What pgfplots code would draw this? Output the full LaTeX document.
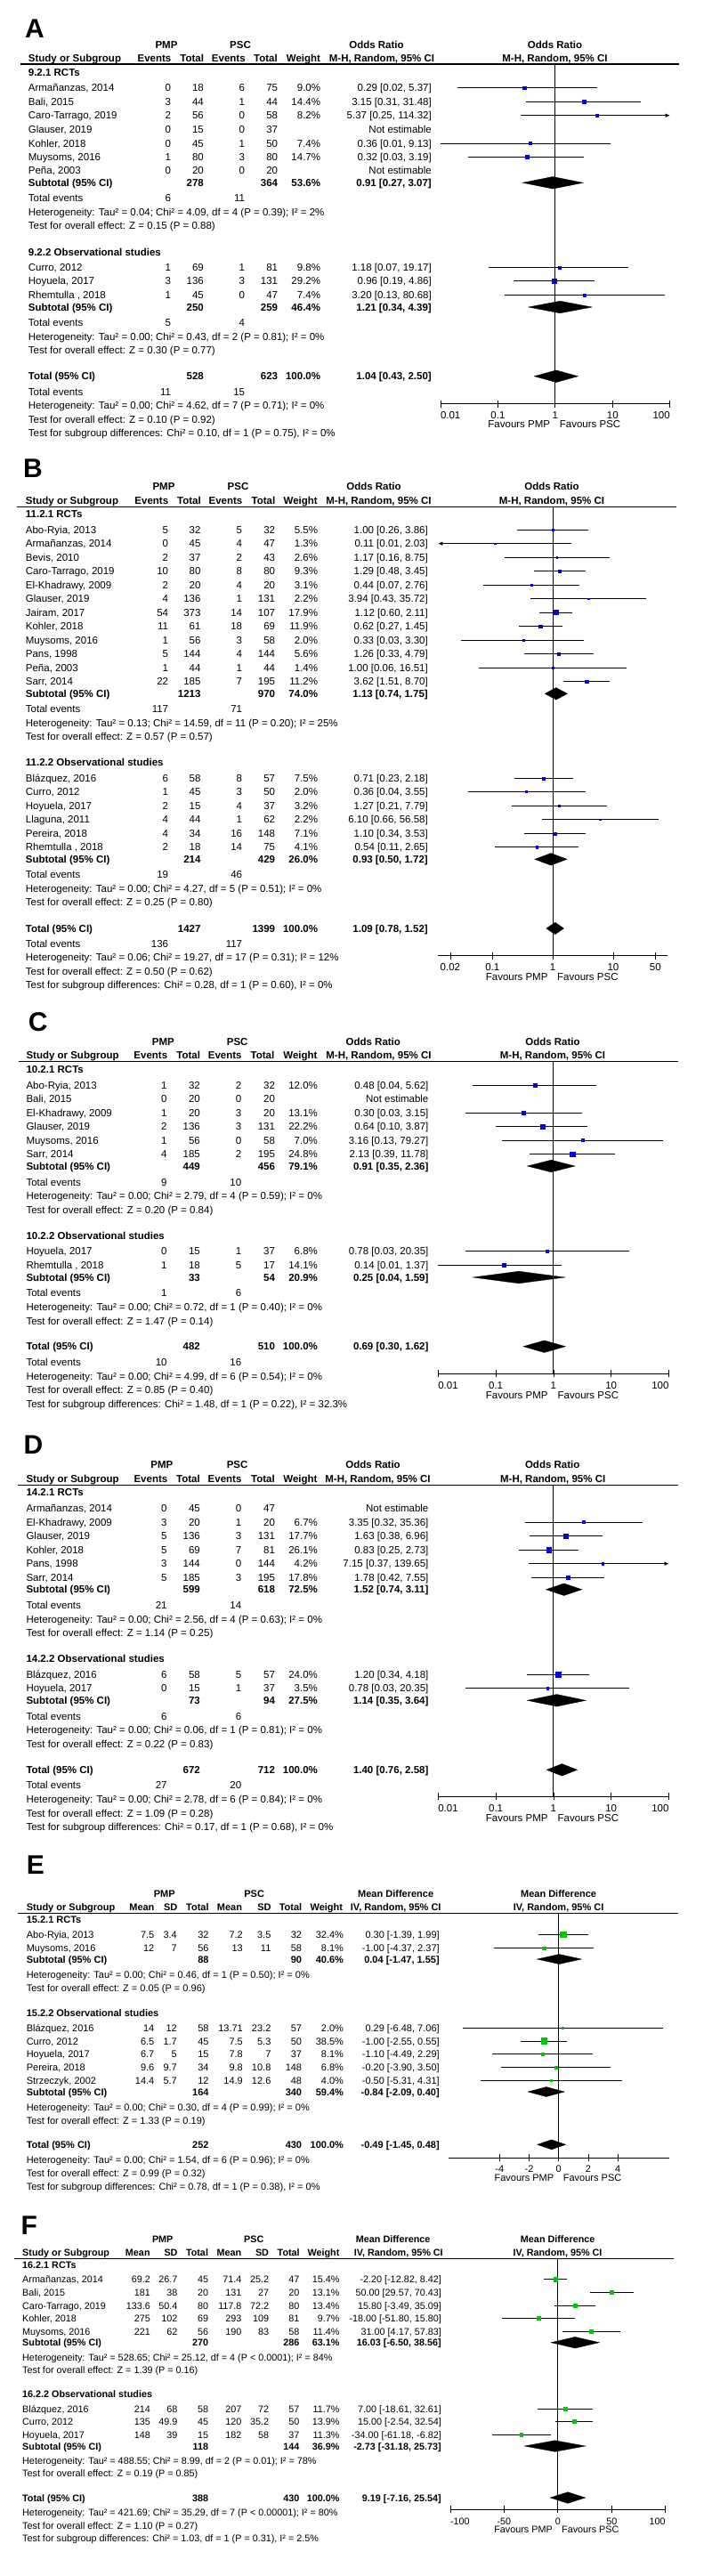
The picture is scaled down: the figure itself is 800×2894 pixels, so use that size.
\documentclass[border=0pt]{standalone}
\usepackage{fontspec}
\setmainfont{Liberation Sans}
\usepackage{pgfplots}
\pgfplotsset{compat=1.18}
\usetikzlibrary{arrows.meta}
\definecolor{rmblue}{RGB}{0,0,225}
\definecolor{rmgreen}{RGB}{0,200,0}
\def\fsz{11.5}
\newcommand\fs{\fontsize{\fsz}{\fsz}\selectfont}
\newcommand\Lt[3]{\node[anchor=base west,inner sep=0pt,font=\fs] at (#1pt,-#2pt-4pt) {#3};}
\newcommand\Rt[3]{\node[anchor=base east,inner sep=0pt,font=\fs] at (#1pt,-#2pt-4pt) {#3};}
\newcommand\Ct[3]{\node[anchor=base,inner sep=0pt,font=\fs] at (#1pt,-#2pt-4pt) {#3};}
\newcommand\Hc[3]{\Ct{#1}{#2}{\textbf{#3}}}
\newcommand\Pl[3]{\node[anchor=base west,inner sep=0pt,font=\fontsize{30}{30}\selectfont\bfseries] at (#1pt,-#2pt) {#3};}
\newcommand\rowOR[8]{\Lt{\xN}{#1}{#2}\Rt{\xa}{#1}{#3}\Rt{\xb}{#1}{#4}\Rt{\xc}{#1}{#5}\Rt{\xd}{#1}{#6}\Rt{\xw}{#1}{#7}\Rt{\xo}{#1}{#8}}
\newcommand\rowMD[9]{\Lt{\xN}{#1}{#2}\Rt{\xa}{#1}{#3}\Rt{\xb}{#1}{#4}\Rt{\xc}{#1}{#5}\Rt{\xd}{#1}{#6}\Rt{\xe}{#1}{#7}\Rt{\xf}{#1}{#8}\Rt{\xw}{#1}{#9}}
\newcommand\md[2]{\Rt{\xo}{#1}{#2}}
% forest-plot helpers (data points)
\newcommand\st[6]{%
\addplot[ciline] coordinates {(#4,#2) (#5,#2)};
\addplot[only marks, mark=square*, color=#1, mark size={max(0.55*sqrt(#6),0.9)}] coordinates {(#3,#2)};}
\newcommand\stx[6]{%
\addplot[ciline,-{Latex[length=5pt,width=4.5pt]}] coordinates {(#4,#2) (#5,#2)};
\addplot[only marks, mark=square*, color=#1, mark size={max(0.55*sqrt(#6),0.9)}] coordinates {(#3,#2)};}
\def\dh{6.8}
\newcommand\dm[4]{\pgfmathsetmacro\yt{#1+\dh}\pgfmathsetmacro\yb{#1-\dh}%
\edef\tmp{\noexpand\addplot[fill=black,draw=black,line width=0.3pt] coordinates {(#3,#1) (#2,\yt) (#4,#1) (#2,\yb)} --cycle;}\tmp}
\pgfplotsset{
 forest/.style={scale only axis, anchor=south west, axis x line=bottom, axis y line=none,
   axis line style={-,black,line width=1pt}, x axis line style={-}, clip=false, enlargelimits=false,
   xtick align=center, major tick length=8pt, tick style={black,line width=0.8pt},
   xticklabel style={font=\fs, anchor=north, inner sep=0pt, yshift=-5pt}, ytick=\empty, xminorticks=false},
 ciline/.style={black, line width=0.7pt, mark=none},
 vline/.style={black, line width=1pt, mark=none}
}
\begin{document}
\begin{tikzpicture}
\useasboundingbox (0pt,0pt) rectangle (800pt,-2894pt);
%================= PANEL A =================
\def\fsz{11.5}
\Pl{28}{42}{A}
\def\xN{31.7}\def\xa{192.3}\def\xb{229}\def\xc{275.3}\def\xd{312.3}\def\xw{360.3}\def\xo{485}
\Hc{187}{50}{PMP}\Hc{270}{50}{PSC}\Hc{423}{50}{Odds Ratio}\Hc{623.5}{50}{Odds Ratio}
\Lt{\xN}{65.3}{\textbf{Study or Subgroup}}\Hc{173.5}{65.3}{Events}\Hc{215.7}{65.3}{Total}\Hc{256.8}{65.3}{Events}\Hc{298.5}{65.3}{Total}\Hc{341}{65.3}{Weight}\Hc{429}{65.3}{M-H, Random, 95\% CI}\Hc{623.5}{65.3}{M-H, Random, 95\% CI}
\draw[line width=1.2pt] (22.7pt,-72pt) -- (762.7pt,-72pt);
\Lt{\xN}{81}{\textbf{9.2.1 RCTs}}
\rowOR{98.7}{Armañanzas, 2014}{0}{18}{6}{75}{9.0\%}{0.29 [0.02, 5.37]}
\rowOR{114.3}{Bali, 2015}{3}{44}{1}{44}{14.4\%}{3.15 [0.31, 31.48]}
\rowOR{129.7}{Caro-Tarrago, 2019}{2}{56}{0}{58}{8.2\%}{5.37 [0.25, 114.32]}
\rowOR{145.3}{Glauser, 2019}{0}{15}{0}{37}{}{Not estimable}
\rowOR{161}{Kohler, 2018}{0}{45}{1}{50}{7.4\%}{0.36 [0.01, 9.13]}
\rowOR{176.3}{Muysoms, 2016}{1}{80}{3}{80}{14.7\%}{0.32 [0.03, 3.19]}
\rowOR{191.7}{Peña, 2003}{0}{20}{0}{20}{}{Not estimable}
\rowOR{205.3}{\textbf{Subtotal (95\% CI)}}{}{\textbf{278}}{}{\textbf{364}}{\textbf{53.6\%}}{\textbf{0.91 [0.27, 3.07]}}
\rowOR{222.7}{Total events}{6}{}{11}{}{}{}
\Lt{\xN}{238.3}{Heterogeneity: Tau² = 0.04; Chi² = 4.09, df = 4 (P = 0.39); I² = 2\%}
\Lt{\xN}{253.7}{Test for overall effect: Z = 0.15 (P = 0.88)}
\Lt{\xN}{283}{\textbf{9.2.2 Observational studies}}
\rowOR{300.7}{Curro, 2012}{1}{69}{1}{81}{9.8\%}{1.18 [0.07, 19.17]}
\rowOR{315.7}{Hoyuela, 2017}{3}{136}{3}{131}{29.2\%}{0.96 [0.19, 4.86]}
\rowOR{331.3}{Rhemtulla , 2018}{1}{45}{0}{47}{7.4\%}{3.20 [0.13, 80.68]}
\rowOR{345}{\textbf{Subtotal (95\% CI)}}{}{\textbf{250}}{}{\textbf{259}}{\textbf{46.4\%}}{\textbf{1.21 [0.34, 4.39]}}
\rowOR{362}{Total events}{5}{}{4}{}{}{}
\Lt{\xN}{378}{Heterogeneity: Tau² = 0.00; Chi² = 0.43, df = 2 (P = 0.81); I² = 0\%}
\Lt{\xN}{393}{Test for overall effect: Z = 0.30 (P = 0.77)}
\rowOR{422.7}{\textbf{Total (95\% CI)}}{}{\textbf{528}}{}{\textbf{623}}{\textbf{100.0\%}}{\textbf{1.04 [0.43, 2.50]}}
\rowOR{440}{Total events}{11}{}{15}{}{}{}
\Lt{\xN}{455.7}{Heterogeneity: Tau² = 0.00; Chi² = 4.62, df = 7 (P = 0.71); I² = 0\%}
\Lt{\xN}{471.3}{Test for overall effect: Z = 0.10 (P = 0.92)}
\Lt{\xN}{486.7}{Test for subgroup differences: Chi² = 0.10, df = 1 (P = 0.75), I² = 0\%}
\Rt{618.3}{476.8}{Favours PMP}\Lt{628.7}{476.8}{Favours PSC}
\begin{axis}[forest, at={(495pt,-453.6pt)}, width=257.7pt, height=381.6pt, xmode=log, xmin=0.01, xmax=100, ymin=-453.6, ymax=-72,
  xtick={0.01,0.1,1,10,100}, xticklabels={\rlap{0.01},0.1,1,10,\llap{100}}]
\addplot[vline] coordinates {(1,-453.6) (1,-72)};
\st{rmblue}{-98.7}{0.29}{0.02}{5.37}{9.0}
\st{rmblue}{-114.3}{3.15}{0.31}{31.48}{14.4}
\stx{rmblue}{-129.7}{5.37}{0.25}{100}{8.2}
\st{rmblue}{-161}{0.36}{0.01}{9.13}{7.4}
\st{rmblue}{-176.3}{0.32}{0.03}{3.19}{14.7}
\dm{-205.3}{0.91}{0.27}{3.07}
\st{rmblue}{-300.7}{1.18}{0.07}{19.17}{9.8}
\st{rmblue}{-315.7}{0.96}{0.19}{4.86}{29.2}
\st{rmblue}{-331.3}{3.20}{0.13}{80.68}{7.4}
\dm{-345}{1.21}{0.34}{4.39}
\dm{-422.7}{1.04}{0.43}{2.50}
\end{axis}
%================= PANEL B =================
\Pl{26}{536.7}{B}
\def\xN{28.7}\def\xa{189.3}\def\xb{225.7}\def\xc{272.3}\def\xd{309.3}\def\xw{357.3}\def\xo{481}
\Hc{184}{546.7}{PMP}\Hc{267.5}{546.7}{PSC}\Hc{420}{546.7}{Odds Ratio}\Hc{620}{546.7}{Odds Ratio}
\Lt{\xN}{562}{\textbf{Study or Subgroup}}\Hc{170.3}{562}{Events}\Hc{212.5}{562}{Total}\Hc{253.5}{562}{Events}\Hc{296}{562}{Total}\Hc{337.7}{562}{Weight}\Hc{425.5}{562}{M-H, Random, 95\% CI}\Hc{620}{562}{M-H, Random, 95\% CI}
\draw[line width=1.2pt] (19.3pt,-569.3pt) -- (760pt,-569.3pt);
\Lt{\xN}{577.3}{\textbf{11.2.1 RCTs}}
\rowOR{595}{Abo-Ryia, 2013}{5}{32}{5}{32}{5.5\%}{1.00 [0.26, 3.86]}
\rowOR{610.7}{Armañanzas, 2014}{0}{45}{4}{47}{1.3\%}{0.11 [0.01, 2.03]}
\rowOR{626}{Bevis, 2010}{2}{37}{2}{43}{2.6\%}{1.17 [0.16, 8.75]}
\rowOR{641.7}{Caro-Tarrago, 2019}{10}{80}{8}{80}{9.3\%}{1.29 [0.48, 3.45]}
\rowOR{657}{El-Khadrawy, 2009}{2}{20}{4}{20}{3.1\%}{0.44 [0.07, 2.76]}
\rowOR{672.7}{Glauser, 2019}{4}{136}{1}{131}{2.2\%}{3.94 [0.43, 35.72]}
\rowOR{688}{Jairam, 2017}{54}{373}{14}{107}{17.9\%}{1.12 [0.60, 2.11]}
\rowOR{703.7}{Kohler, 2018}{11}{61}{18}{69}{11.9\%}{0.62 [0.27, 1.45]}
\rowOR{719}{Muysoms, 2016}{1}{56}{3}{58}{2.0\%}{0.33 [0.03, 3.30]}
\rowOR{734.7}{Pans, 1998}{5}{144}{4}{144}{5.6\%}{1.26 [0.33, 4.79]}
\rowOR{750}{Peña, 2003}{1}{44}{1}{44}{1.4\%}{1.00 [0.06, 16.51]}
\rowOR{765.7}{Sarr, 2014}{22}{185}{7}{195}{11.2\%}{3.62 [1.51, 8.70]}
\rowOR{779.3}{\textbf{Subtotal (95\% CI)}}{}{\textbf{1213}}{}{\textbf{970}}{\textbf{74.0\%}}{\textbf{1.13 [0.74, 1.75]}}
\rowOR{796.7}{Total events}{117}{}{71}{}{}{}
\Lt{\xN}{812.3}{Heterogeneity: Tau² = 0.13; Chi² = 14.59, df = 11 (P = 0.20); I² = 25\%}
\Lt{\xN}{827.7}{Test for overall effect: Z = 0.57 (P = 0.57)}
\Lt{\xN}{856.7}{\textbf{11.2.2 Observational studies}}
\rowOR{874.3}{Blázquez, 2016}{6}{58}{8}{57}{7.5\%}{0.71 [0.23, 2.18]}
\rowOR{889.3}{Curro, 2012}{1}{45}{3}{50}{2.0\%}{0.36 [0.04, 3.55]}
\rowOR{905}{Hoyuela, 2017}{2}{15}{4}{37}{3.2\%}{1.27 [0.21, 7.79]}
\rowOR{920.7}{Llaguna, 2011}{4}{44}{1}{62}{2.2\%}{6.10 [0.66, 56.58]}
\rowOR{936.3}{Pereira, 2018}{4}{34}{16}{148}{7.1\%}{1.10 [0.34, 3.53]}
\rowOR{951.7}{Rhemtulla , 2018}{2}{18}{14}{75}{4.1\%}{0.54 [0.11, 2.65]}
\rowOR{965.3}{\textbf{Subtotal (95\% CI)}}{}{\textbf{214}}{}{\textbf{429}}{\textbf{26.0\%}}{\textbf{0.93 [0.50, 1.72]}}
\rowOR{982.7}{Total events}{19}{}{46}{}{}{}
\Lt{\xN}{998.3}{Heterogeneity: Tau² = 0.00; Chi² = 4.27, df = 5 (P = 0.51); I² = 0\%}
\Lt{\xN}{1013.7}{Test for overall effect: Z = 0.25 (P = 0.80)}
\rowOR{1043}{\textbf{Total (95\% CI)}}{}{\textbf{1427}}{}{\textbf{1399}}{\textbf{100.0\%}}{\textbf{1.09 [0.78, 1.52]}}
\rowOR{1060.3}{Total events}{136}{}{117}{}{}{}
\Lt{\xN}{1075.7}{Heterogeneity: Tau² = 0.06; Chi² = 19.27, df = 17 (P = 0.31); I² = 12\%}
\Lt{\xN}{1091.3}{Test for overall effect: Z = 0.50 (P = 0.62)}
\Lt{\xN}{1106.7}{Test for subgroup differences: Chi² = 0.28, df = 1 (P = 0.60), I² = 0\%}
\Rt{615.7}{1097}{Favours PMP}\Lt{626}{1097}{Favours PSC}
\begin{axis}[forest, at={(492.3pt,-1073.5pt)}, width=257.7pt, height=504.2pt, xmode=log, xmin=0.012589, xmax=79.433, ymin=-1073.5, ymax=-569.3,
  xtick={0.02,0.1,1,10,50}, xticklabels={0.02,0.1,1,10,50}]
\addplot[vline] coordinates {(1,-1073.5) (1,-569.3)};
\st{rmblue}{-595}{1.00}{0.26}{3.86}{5.5}
\stx{rmblue}{-610.7}{0.11}{2.03}{0.012589}{1.3}
\st{rmblue}{-626}{1.17}{0.16}{8.75}{2.6}
\st{rmblue}{-641.7}{1.29}{0.48}{3.45}{9.3}
\st{rmblue}{-657}{0.44}{0.07}{2.76}{3.1}
\st{rmblue}{-672.7}{3.94}{0.43}{35.72}{2.2}
\st{rmblue}{-688}{1.12}{0.60}{2.11}{17.9}
\st{rmblue}{-703.7}{0.62}{0.27}{1.45}{11.9}
\st{rmblue}{-719}{0.33}{0.03}{3.30}{2.0}
\st{rmblue}{-734.7}{1.26}{0.33}{4.79}{5.6}
\st{rmblue}{-750}{1.00}{0.06}{16.51}{1.4}
\st{rmblue}{-765.7}{3.62}{1.51}{8.70}{11.2}
\dm{-779.3}{1.13}{0.74}{1.75}
\st{rmblue}{-874.3}{0.71}{0.23}{2.18}{7.5}
\st{rmblue}{-889.3}{0.36}{0.04}{3.55}{2.0}
\st{rmblue}{-905}{1.27}{0.21}{7.79}{3.2}
\st{rmblue}{-920.7}{6.10}{0.66}{56.58}{2.2}
\st{rmblue}{-936.3}{1.10}{0.34}{3.53}{7.1}
\st{rmblue}{-951.7}{0.54}{0.11}{2.65}{4.1}
\dm{-965.3}{0.93}{0.50}{1.72}
\dm{-1043}{1.09}{0.78}{1.52}
\end{axis}
%================= PANEL C =================
\Pl{31.7}{1158.3}{C}
\def\xN{29.3}\def\xa{187.8}\def\xb{225}\def\xc{271.4}\def\xd{309.2}\def\xw{357.1}\def\xo{481.6}
\Hc{183.3}{1170}{PMP}\Hc{266.7}{1170}{PSC}\Hc{419.3}{1170}{Odds Ratio}\Hc{621}{1170}{Odds Ratio}
\Lt{\xN}{1185.7}{\textbf{Study or Subgroup}}\Hc{169.3}{1185.7}{Events}\Hc{211.7}{1185.7}{Total}\Hc{252.7}{1185.7}{Events}\Hc{295}{1185.7}{Total}\Hc{337.5}{1185.7}{Weight}\Hc{425.5}{1185.7}{M-H, Random, 95\% CI}\Hc{621}{1185.7}{M-H, Random, 95\% CI}
\draw[line width=1.2pt] (20.7pt,-1192.7pt) -- (761.7pt,-1192.7pt);
\Lt{\xN}{1201}{\textbf{10.2.1 RCTs}}
\rowOR{1219}{Abo-Ryia, 2013}{1}{32}{2}{32}{12.0\%}{0.48 [0.04, 5.62]}
\rowOR{1234.7}{Bali, 2015}{0}{20}{0}{20}{}{Not estimable}
\rowOR{1250}{El-Khadrawy, 2009}{1}{20}{3}{20}{13.1\%}{0.30 [0.03, 3.15]}
\rowOR{1265.7}{Glauser, 2019}{2}{136}{3}{131}{22.2\%}{0.64 [0.10, 3.87]}
\rowOR{1281}{Muysoms, 2016}{1}{56}{0}{58}{7.0\%}{3.16 [0.13, 79.27]}
\rowOR{1296.7}{Sarr, 2014}{4}{185}{2}{195}{24.8\%}{2.13 [0.39, 11.78]}
\rowOR{1310}{\textbf{Subtotal (95\% CI)}}{}{\textbf{449}}{}{\textbf{456}}{\textbf{79.1\%}}{\textbf{0.91 [0.35, 2.36]}}
\rowOR{1328}{Total events}{9}{}{10}{}{}{}
\Lt{\xN}{1343.7}{Heterogeneity: Tau² = 0.00; Chi² = 2.79, df = 4 (P = 0.59); I² = 0\%}
\Lt{\xN}{1359}{Test for overall effect: Z = 0.20 (P = 0.84)}
\Lt{\xN}{1388.3}{\textbf{10.2.2 Observational studies}}
\rowOR{1405.7}{Hoyuela, 2017}{0}{15}{1}{37}{6.8\%}{0.78 [0.03, 20.35]}
\rowOR{1421.3}{Rhemtulla , 2018}{1}{18}{5}{17}{14.1\%}{0.14 [0.01, 1.37]}
\rowOR{1435}{\textbf{Subtotal (95\% CI)}}{}{\textbf{33}}{}{\textbf{54}}{\textbf{20.9\%}}{\textbf{0.25 [0.04, 1.59]}}
\rowOR{1452.7}{Total events}{1}{}{6}{}{}{}
\Lt{\xN}{1468.3}{Heterogeneity: Tau² = 0.00; Chi² = 0.72, df = 1 (P = 0.40); I² = 0\%}
\Lt{\xN}{1484}{Test for overall effect: Z = 1.47 (P = 0.14)}
\rowOR{1512.7}{\textbf{Total (95\% CI)}}{}{\textbf{482}}{}{\textbf{510}}{\textbf{100.0\%}}{\textbf{0.69 [0.30, 1.62]}}
\rowOR{1530.3}{Total events}{10}{}{16}{}{}{}
\Lt{\xN}{1546}{Heterogeneity: Tau² = 0.00; Chi² = 4.99, df = 6 (P = 0.54); I² = 0\%}
\Lt{\xN}{1561.7}{Test for overall effect: Z = 0.85 (P = 0.40)}
\Lt{\xN}{1577.3}{Test for subgroup differences: Chi² = 1.48, df = 1 (P = 0.22), I² = 32.3\%}
\Rt{615.8}{1567.7}{Favours PMP}\Lt{626.5}{1567.7}{Favours PSC}
\begin{axis}[forest, at={(492.3pt,-1543.3pt)}, width=259.2pt, height=350.6pt, xmode=log, xmin=0.01, xmax=100, ymin=-1543.3, ymax=-1192.7,
  xtick={0.01,0.1,1,10,100}, xticklabels={\rlap{0.01},0.1,1,10,\llap{100}}]
\addplot[vline] coordinates {(1,-1543.3) (1,-1192.7)};
\st{rmblue}{-1219}{0.48}{0.04}{5.62}{12.0}
\st{rmblue}{-1250}{0.30}{0.03}{3.15}{13.1}
\st{rmblue}{-1265.7}{0.64}{0.10}{3.87}{22.2}
\st{rmblue}{-1281}{3.16}{0.13}{79.27}{7.0}
\st{rmblue}{-1296.7}{2.13}{0.39}{11.78}{24.8}
\dm{-1310}{0.91}{0.35}{2.36}
\st{rmblue}{-1405.7}{0.78}{0.03}{20.35}{6.8}
\st{rmblue}{-1421.3}{0.14}{0.01}{1.37}{14.1}
\dm{-1435}{0.25}{0.04}{1.59}
\dm{-1512.7}{0.69}{0.30}{1.62}
\end{axis}
%================= PANEL D =================
\Pl{26.5}{1633}{D}
\Hc{181.9}{1645}{PMP}\Hc{266.6}{1645}{PSC}\Hc{419.1}{1645}{Odds Ratio}\Hc{620.7}{1645}{Odds Ratio}
\Lt{\xN}{1661}{\textbf{Study or Subgroup}}\Hc{169.4}{1661}{Events}\Hc{211.5}{1661}{Total}\Hc{252.6}{1661}{Events}\Hc{295.4}{1661}{Total}\Hc{337.5}{1661}{Weight}\Hc{424.5}{1661}{M-H, Random, 95\% CI}\Hc{621.2}{1661}{M-H, Random, 95\% CI}
\draw[line width=1.2pt] (20.4pt,-1668.3pt) -- (761.7pt,-1668.3pt);
\Lt{\xN}{1676.7}{\textbf{14.2.1 RCTs}}
\rowOR{1694.3}{Armañanzas, 2014}{0}{45}{0}{47}{}{Not estimable}
\rowOR{1710}{El-Khadrawy, 2009}{3}{20}{1}{20}{6.7\%}{3.35 [0.32, 35.36]}
\rowOR{1725.7}{Glauser, 2019}{5}{136}{3}{131}{17.7\%}{1.63 [0.38, 6.96]}
\rowOR{1741}{Kohler, 2018}{5}{69}{7}{81}{26.1\%}{0.83 [0.25, 2.73]}
\rowOR{1756.7}{Pans, 1998}{3}{144}{0}{144}{4.2\%}{7.15 [0.37, 139.65]}
\rowOR{1772}{Sarr, 2014}{5}{185}{3}{195}{17.8\%}{1.78 [0.42, 7.55]}
\rowOR{1785.7}{\textbf{Subtotal (95\% CI)}}{}{\textbf{599}}{}{\textbf{618}}{\textbf{72.5\%}}{\textbf{1.52 [0.74, 3.11]}}
\rowOR{1803.3}{Total events}{21}{}{14}{}{}{}
\Lt{\xN}{1819}{Heterogeneity: Tau² = 0.00; Chi² = 2.56, df = 4 (P = 0.63); I² = 0\%}
\Lt{\xN}{1834.7}{Test for overall effect: Z = 1.14 (P = 0.25)}
\Lt{\xN}{1863.3}{\textbf{14.2.2 Observational studies}}
\rowOR{1881}{Blázquez, 2016}{6}{58}{5}{57}{24.0\%}{1.20 [0.34, 4.18]}
\rowOR{1896.7}{Hoyuela, 2017}{0}{15}{1}{37}{3.5\%}{0.78 [0.03, 20.35]}
\rowOR{1910.3}{\textbf{Subtotal (95\% CI)}}{}{\textbf{73}}{}{\textbf{94}}{\textbf{27.5\%}}{\textbf{1.14 [0.35, 3.64]}}
\rowOR{1928}{Total events}{6}{}{6}{}{}{}
\Lt{\xN}{1943.7}{Heterogeneity: Tau² = 0.00; Chi² = 0.06, df = 1 (P = 0.81); I² = 0\%}
\Lt{\xN}{1959}{Test for overall effect: Z = 0.22 (P = 0.83)}
\rowOR{1988.3}{\textbf{Total (95\% CI)}}{}{\textbf{672}}{}{\textbf{712}}{\textbf{100.0\%}}{\textbf{1.40 [0.76, 2.58]}}
\rowOR{2005.7}{Total events}{27}{}{20}{}{}{}
\Lt{\xN}{2021.3}{Heterogeneity: Tau² = 0.00; Chi² = 2.78, df = 6 (P = 0.84); I² = 0\%}
\Lt{\xN}{2037}{Test for overall effect: Z = 1.09 (P = 0.28)}
\Lt{\xN}{2052.7}{Test for subgroup differences: Chi² = 0.17, df = 1 (P = 0.68), I² = 0\%}
\Rt{615.8}{2042.7}{Favours PMP}\Lt{626.5}{2042.7}{Favours PSC}
\begin{axis}[forest, at={(492.3pt,-2018.3pt)}, width=259.2pt, height=350pt, xmode=log, xmin=0.01, xmax=100, ymin=-2018.3, ymax=-1668.3,
  xtick={0.01,0.1,1,10,100}, xticklabels={\rlap{0.01},0.1,1,10,\llap{100}}]
\addplot[vline] coordinates {(1,-2018.3) (1,-1668.3)};
\st{rmblue}{-1710}{3.35}{0.32}{35.36}{6.7}
\st{rmblue}{-1725.7}{1.63}{0.38}{6.96}{17.7}
\st{rmblue}{-1741}{0.83}{0.25}{2.73}{26.1}
\stx{rmblue}{-1756.7}{7.15}{0.37}{100}{4.2}
\st{rmblue}{-1772}{1.78}{0.42}{7.55}{17.8}
\dm{-1785.7}{1.52}{0.74}{3.11}
\st{rmblue}{-1881}{1.20}{0.34}{4.18}{24.0}
\st{rmblue}{-1896.7}{0.78}{0.03}{20.35}{3.5}
\dm{-1910.3}{1.14}{0.35}{3.64}
\dm{-1988.3}{1.40}{0.76}{2.58}
\end{axis}
%================= PANEL E =================
\def\fsz{11}
\def\dh{5.5}
\Pl{29.6}{2105}{E}
\def\xN{29.6}\def\xa{173.5}\def\xb{199}\def\xc{234.7}\def\xd{273}\def\xe{304.6}\def\xf{339.3}\def\xw{386.2}\def\xo{493.9}
\Hc{184.7}{2127.3}{PMP}\Hc{285.7}{2127.3}{PSC}\Hc{444.7}{2127.3}{Mean Difference}\Hc{627.6}{2127.3}{Mean Difference}
\Lt{\xN}{2142.3}{\textbf{Study or Subgroup}}\Hc{159.4}{2142.3}{Mean}\Hc{191.8}{2142.3}{SD}\Hc{221.9}{2142.3}{Total}\Hc{258}{2142.3}{Mean}\Hc{297}{2142.3}{SD}\Hc{326.5}{2142.3}{Total}\Hc{366.8}{2142.3}{Weight}\Hc{444.7}{2142.3}{IV, Random, 95\% CI}\Hc{627.6}{2142.3}{IV, Random, 95\% CI}
\draw[line width=1.2pt] (20.4pt,-2149.3pt) -- (761.7pt,-2149.3pt);
\Lt{\xN}{2156.7}{\textbf{15.2.1 RCTs}}
\rowMD{2173.3}{Abo-Ryia, 2013}{7.5}{3.4}{32}{7.2}{3.5}{32}{32.4\%}\md{2173.3}{0.30 [-1.39, 1.99]}
\rowMD{2188.7}{Muysoms, 2016}{12}{7}{56}{13}{11}{58}{8.1\%}\md{2188.7}{-1.00 [-4.37, 2.37]}
\rowMD{2201}{\textbf{Subtotal (95\% CI)}}{}{}{\textbf{88}}{}{}{\textbf{90}}{\textbf{40.6\%}}\md{2201}{\textbf{0.04 [-1.47, 1.55]}}
\Lt{\xN}{2218.3}{Heterogeneity: Tau² = 0.00; Chi² = 0.46, df = 1 (P = 0.50); I² = 0\%}
\Lt{\xN}{2233.7}{Test for overall effect: Z = 0.05 (P = 0.96)}
\Lt{\xN}{2261}{\textbf{15.2.2 Observational studies}}
\rowMD{2278.3}{Blázquez, 2016}{14}{12}{58}{13.71}{23.2}{57}{2.0\%}\md{2278.3}{0.29 [-6.48, 7.06]}
\rowMD{2293}{Curro, 2012}{6.5}{1.7}{45}{7.5}{5.3}{50}{38.5\%}\md{2293}{-1.00 [-2.55, 0.55]}
\rowMD{2307.7}{Hoyuela, 2017}{6.7}{5}{15}{7.8}{7}{37}{8.1\%}\md{2307.7}{-1.10 [-4.49, 2.29]}
\rowMD{2322.7}{Pereira, 2018}{9.6}{9.7}{34}{9.8}{10.8}{148}{6.8\%}\md{2322.7}{-0.20 [-3.90, 3.50]}
\rowMD{2337.3}{Strzeczyk, 2002}{14.4}{5.7}{12}{14.9}{12.6}{48}{4.0\%}\md{2337.3}{-0.50 [-5.31, 4.31]}
\rowMD{2350}{\textbf{Subtotal (95\% CI)}}{}{}{\textbf{164}}{}{}{\textbf{340}}{\textbf{59.4\%}}\md{2350}{\textbf{-0.84 [-2.09, 0.40]}}
\Lt{\xN}{2367}{Heterogeneity: Tau² = 0.00; Chi² = 0.30, df = 4 (P = 0.99); I² = 0\%}
\Lt{\xN}{2382}{Test for overall effect: Z = 1.33 (P = 0.19)}
\rowMD{2409.3}{\textbf{Total (95\% CI)}}{}{}{\textbf{252}}{}{}{\textbf{430}}{\textbf{100.0\%}}\md{2409.3}{\textbf{-0.49 [-1.45, 0.48]}}
\Lt{\xN}{2426}{Heterogeneity: Tau² = 0.00; Chi² = 1.54, df = 6 (P = 0.96); I² = 0\%}
\Lt{\xN}{2441.3}{Test for overall effect: Z = 0.99 (P = 0.32)}
\Lt{\xN}{2456}{Test for subgroup differences: Chi² = 0.78, df = 1 (P = 0.38), I² = 0\%}
\Rt{622.4}{2446.7}{Favours PMP}\Lt{632.7}{2446.7}{Favours PSC}
\begin{axis}[forest, at={(504pt,-2424pt)}, width=247.5pt, height=274.7pt, xmin=-7.45, xmax=7.45, ymin=-2424, ymax=-2149.3,
  xtick={-4,-2,0,2,4}, xticklabels={-4,-2,0,2,4}]
\addplot[vline] coordinates {(0,-2424) (0,-2149.3)};
\st{rmgreen}{-2173.3}{0.30}{-1.39}{1.99}{32.4}
\st{rmgreen}{-2188.7}{-1.00}{-4.37}{2.37}{8.1}
\dm{-2201}{0.04}{-1.47}{1.55}
\st{rmgreen}{-2278.3}{0.29}{-6.48}{7.06}{2.0}
\st{rmgreen}{-2293}{-1.00}{-2.55}{0.55}{38.5}
\st{rmgreen}{-2307.7}{-1.10}{-4.49}{2.29}{8.1}
\st{rmgreen}{-2322.7}{-0.20}{-3.90}{3.50}{6.8}
\st{rmgreen}{-2337.3}{-0.50}{-5.31}{4.31}{4.0}
\dm{-2350}{-0.84}{-2.09}{0.40}
\dm{-2409.3}{-0.49}{-1.45}{0.48}
\end{axis}
%================= PANEL F =================
\def\fsz{10.8}
\def\dh{6.3}
\Pl{23.3}{2510}{F}
\def\xN{25}\def\xa{169}\def\xb{199.7}\def\xc{234.3}\def\xd{271.7}\def\xe{302.3}\def\xf{336.7}\def\xw{381.7}\def\xo{496}
\Hc{182.7}{2515}{PMP}\Hc{285.3}{2515}{PSC}\Hc{441.7}{2515}{Mean Difference}\Hc{626.7}{2515}{Mean Difference}
\Lt{\xN}{2530}{\textbf{Study or Subgroup}}\Hc{154.8}{2530}{Mean}\Hc{192}{2530}{SD}\Hc{221.5}{2530}{Total}\Hc{257.5}{2530}{Mean}\Hc{294.5}{2530}{SD}\Hc{324.2}{2530}{Total}\Hc{363.5}{2530}{Weight}\Hc{447.8}{2530}{IV, Random, 95\% CI}\Hc{626.5}{2530}{IV, Random, 95\% CI}
\draw[line width=1.2pt] (16pt,-2537.3pt) -- (756.7pt,-2537.3pt);
\Lt{\xN}{2544.3}{\textbf{16.2.1 RCTs}}
\rowMD{2560.7}{Armañanzas, 2014}{69.2}{26.7}{45}{71.4}{25.2}{47}{15.4\%}\md{2560.7}{-2.20 [-12.82, 8.42]}
\rowMD{2575.3}{Bali, 2015}{181}{38}{20}{131}{27}{20}{13.1\%}\md{2575.3}{50.00 [29.57, 70.43]}
\rowMD{2590}{Caro-Tarrago, 2019}{133.6}{50.4}{80}{117.8}{72.2}{80}{13.4\%}\md{2590}{15.80 [-3.49, 35.09]}
\rowMD{2604.3}{Kohler, 2018}{275}{102}{69}{293}{109}{81}{9.7\%}\md{2604.3}{-18.00 [-51.80, 15.80]}
\rowMD{2619}{Muysoms, 2016}{221}{62}{56}{190}{83}{58}{11.4\%}\md{2619}{31.00 [4.17, 57.83]}
\rowMD{2631.7}{\textbf{Subtotal (95\% CI)}}{}{}{\textbf{270}}{}{}{\textbf{286}}{\textbf{63.1\%}}\md{2631.7}{\textbf{16.03 [-6.50, 38.56]}}
\Lt{\xN}{2648}{Heterogeneity: Tau² = 528.65; Chi² = 25.12, df = 4 (P < 0.0001); I² = 84\%}
\Lt{\xN}{2662.3}{Test for overall effect: Z = 1.39 (P = 0.16)}
\Lt{\xN}{2689.3}{\textbf{16.2.2 Observational studies}}
\rowMD{2706}{Blázquez, 2016}{214}{68}{58}{207}{72}{57}{11.7\%}\md{2706}{7.00 [-18.61, 32.61]}
\rowMD{2720.3}{Curro, 2012}{135}{49.9}{45}{120}{35.2}{50}{13.9\%}\md{2720.3}{15.00 [-2.54, 32.54]}
\rowMD{2735}{Hoyuela, 2017}{148}{39}{15}{182}{58}{37}{11.3\%}\md{2735}{-34.00 [-61.18, -6.82]}
\rowMD{2748}{\textbf{Subtotal (95\% CI)}}{}{}{\textbf{118}}{}{}{\textbf{144}}{\textbf{36.9\%}}\md{2748}{\textbf{-2.73 [-31.18, 25.73]}}
\Lt{\xN}{2764}{Heterogeneity: Tau² = 488.55; Chi² = 8.99, df = 2 (P = 0.01); I² = 78\%}
\Lt{\xN}{2778.3}{Test for overall effect: Z = 0.19 (P = 0.85)}
\rowMD{2806}{\textbf{Total (95\% CI)}}{}{}{\textbf{388}}{}{}{\textbf{430}}{\textbf{100.0\%}}\md{2806}{\textbf{9.19 [-7.16, 25.54]}}
\Lt{\xN}{2822}{Heterogeneity: Tau² = 421.69; Chi² = 35.29, df = 7 (P < 0.00001); I² = 80\%}
\Lt{\xN}{2837}{Test for overall effect: Z = 1.10 (P = 0.27)}
\Lt{\xN}{2851}{Test for subgroup differences: Chi² = 1.03, df = 1 (P = 0.31), I² = 2.5\%}
\Rt{621}{2841.7}{Favours PMP}\Lt{631}{2841.7}{Favours PSC}
\begin{axis}[forest, at={(506pt,-2819.3pt)}, width=241.7pt, height=282pt, xmin=-100, xmax=100, ymin=-2819.3, ymax=-2537.3,
  xtick={-100,-50,0,50,100}, xticklabels={\rlap{-100},-50,0,50,\llap{100}}]
\addplot[vline] coordinates {(0,-2819.3) (0,-2537.3)};
\st{rmgreen}{-2560.7}{-2.20}{-12.82}{8.42}{15.4}
\st{rmgreen}{-2575.3}{50.00}{29.57}{70.43}{13.1}
\st{rmgreen}{-2590}{15.80}{-3.49}{35.09}{13.4}
\st{rmgreen}{-2604.3}{-18.00}{-51.80}{15.80}{9.7}
\st{rmgreen}{-2619}{31.00}{4.17}{57.83}{11.4}
\dm{-2631.7}{16.03}{-6.50}{38.56}
\st{rmgreen}{-2706}{7.00}{-18.61}{32.61}{11.7}
\st{rmgreen}{-2720.3}{15.00}{-2.54}{32.54}{13.9}
\st{rmgreen}{-2735}{-34.00}{-61.18}{-6.82}{11.3}
\dm{-2748}{-2.73}{-31.18}{25.73}
\dm{-2806}{9.19}{-7.16}{25.54}
\end{axis}
\end{tikzpicture}
\end{document}
